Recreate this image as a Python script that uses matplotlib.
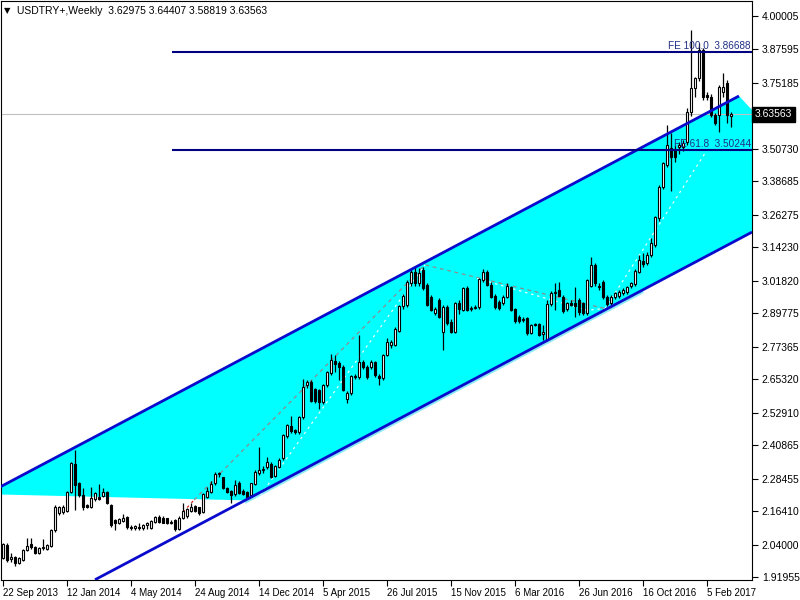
import matplotlib
matplotlib.use('Agg')
import matplotlib.pyplot as plt
import matplotlib.transforms as mtransforms
from matplotlib.patches import Polygon

plt.rcParams['font.family'] = ['Liberation Sans', 'DejaVu Sans']

# ---------------- data ----------------
title_text = "USDTRY+,Weekly  3.62975 3.64407 3.58819 3.63563"

date_labels = ["22 Sep 2013", "12 Jan 2014", "4 May 2014", "24 Aug 2014",
               "14 Dec 2014", "5 Apr 2015", "26 Jul 2015", "15 Nov 2015",
               "6 Mar 2016", "26 Jun 2016", "16 Oct 2016", "5 Feb 2017"]
date_label_bars = [0, 16, 32, 48, 64, 80, 96, 112, 128, 144, 160, 176]

price_tick_labels = ["4.00005", "3.87595", "3.75185", "3.50730", "3.38685",
                     "3.26275", "3.14230", "3.01820", "2.89775", "2.77365",
                     "2.65320", "2.52910", "2.40865", "2.28455", "2.16410",
                     "2.04000", "1.91955"]
current_price = 3.63563

opens = [
    1.989, 2.038, 1.985, 1.995, 1.970, 1.983, 2.020, 2.041, 2.030, 2.007,
    2.026, 2.022, 2.035, 2.094, 2.156, 2.162, 2.165, 2.236, 2.339, 2.267,
    2.224, 2.186, 2.180, 2.208, 2.217, 2.220, 2.236, 2.186, 2.131, 2.121,
    2.128, 2.141, 2.104, 2.100, 2.106, 2.100, 2.112, 2.100, 2.125, 2.143,
    2.140, 2.137, 2.121, 2.131, 2.096, 2.137, 2.146, 2.166, 2.183, 2.178,
    2.162, 2.217, 2.236, 2.267, 2.302, 2.289, 2.248, 2.240, 2.227, 2.269,
    2.240, 2.236, 2.224, 2.264, 2.304, 2.316, 2.326, 2.339, 2.294, 2.329,
    2.360, 2.442, 2.480, 2.465, 2.459, 2.512, 2.632, 2.644, 2.616, 2.613,
    2.570, 2.632, 2.677, 2.722, 2.714, 2.700, 2.578, 2.601, 2.665, 2.663,
    2.718, 2.700, 2.700, 2.718, 2.665, 2.656, 2.743, 2.780, 2.780, 2.833,
    2.925, 2.928, 3.009, 3.052, 3.009, 3.058, 3.003, 2.959, 2.897, 2.947,
    2.830, 2.922, 2.866, 2.830, 2.934, 2.910, 2.990, 2.913, 2.918, 2.922,
    3.021, 3.052, 3.003, 2.960, 2.941, 2.934, 2.959, 2.996, 2.912, 2.885,
    2.878, 2.879, 2.826, 2.857, 2.857, 2.820, 2.800, 2.932, 2.972, 2.984,
    2.959, 2.912, 2.937, 2.934, 2.947, 2.934, 2.897, 3.000, 3.077, 3.000,
    3.015, 2.959, 2.937, 2.959, 2.960, 2.972, 2.975, 2.999, 3.005, 3.052,
    3.093, 3.085, 3.114, 3.150, 3.250, 3.367, 3.447, 3.509, 3.503, 3.515,
    3.515, 3.534, 3.645, 3.732, 3.769, 3.874, 3.707, 3.701, 3.633, 3.633,
    3.719, 3.750, 3.62975]

highs = [
    2.047, 2.045, 2.007, 1.998, 1.992, 2.024, 2.063, 2.063, 2.035, 2.030,
    2.059, 2.042, 2.098, 2.186, 2.184, 2.186, 2.240, 2.347, 2.390, 2.272,
    2.248, 2.192, 2.255, 2.235, 2.263, 2.248, 2.240, 2.190, 2.135, 2.140,
    2.152, 2.146, 2.112, 2.112, 2.119, 2.115, 2.125, 2.130, 2.145, 2.148,
    2.145, 2.140, 2.130, 2.135, 2.145, 2.193, 2.175, 2.193, 2.188, 2.180,
    2.230, 2.255, 2.277, 2.310, 2.310, 2.292, 2.252, 2.244, 2.279, 2.275,
    2.245, 2.240, 2.270, 2.315, 2.400, 2.330, 2.366, 2.345, 2.335, 2.360,
    2.450, 2.487, 2.517, 2.470, 2.515, 2.654, 2.650, 2.650, 2.620, 2.618,
    2.636, 2.685, 2.747, 2.743, 2.720, 2.705, 2.610, 2.670, 2.672, 2.817,
    2.725, 2.705, 2.725, 2.722, 2.672, 2.745, 2.805, 2.800, 2.845, 2.930,
    2.970, 3.020, 3.060, 3.070, 3.065, 3.070, 3.010, 2.965, 2.920, 2.955,
    2.930, 2.930, 2.875, 2.940, 2.945, 2.995, 2.998, 2.925, 2.930, 3.030,
    3.060, 3.058, 3.012, 2.968, 2.948, 2.965, 3.009, 3.000, 2.918, 2.890,
    2.885, 2.883, 2.858, 2.862, 2.862, 2.855, 2.945, 2.980, 3.009, 3.015,
    2.965, 2.940, 2.945, 2.996, 2.955, 2.940, 3.025, 3.107, 3.085, 3.010,
    3.020, 2.965, 2.965, 2.978, 2.985, 2.990, 3.000, 3.015, 3.060, 3.114,
    3.120, 3.126, 3.176, 3.260, 3.372, 3.460, 3.596, 3.565, 3.520, 3.534,
    3.540, 3.660, 3.948, 3.775, 3.900, 3.880, 3.720, 3.710, 3.640, 3.745,
    3.787, 3.763, 3.64407]

lows = [
    1.985, 1.976, 1.976, 1.962, 1.966, 1.980, 2.015, 2.025, 2.003, 2.003,
    2.020, 2.018, 2.030, 2.088, 2.150, 2.155, 2.160, 2.230, 2.168, 2.215,
    2.168, 2.176, 2.176, 2.200, 2.205, 2.215, 2.190, 2.105, 2.094, 2.115,
    2.125, 2.098, 2.094, 2.094, 2.094, 2.095, 2.098, 2.098, 2.120, 2.120,
    2.118, 2.115, 2.115, 2.090, 2.092, 2.135, 2.140, 2.160, 2.160, 2.150,
    2.158, 2.212, 2.230, 2.262, 2.292, 2.245, 2.230, 2.193, 2.220, 2.228,
    2.222, 2.210, 2.220, 2.260, 2.298, 2.305, 2.320, 2.288, 2.290, 2.325,
    2.355, 2.435, 2.455, 2.450, 2.450, 2.505, 2.620, 2.568, 2.565, 2.541,
    2.560, 2.625, 2.670, 2.681, 2.650, 2.610, 2.564, 2.595, 2.655, 2.655,
    2.690, 2.655, 2.690, 2.660, 2.630, 2.650, 2.738, 2.768, 2.775, 2.828,
    2.915, 2.920, 3.000, 3.000, 3.000, 2.985, 2.925, 2.905, 2.890, 2.880,
    2.761, 2.855, 2.825, 2.825, 2.895, 2.905, 2.905, 2.905, 2.912, 2.915,
    3.015, 2.998, 2.955, 2.915, 2.910, 2.928, 2.955, 2.905, 2.860, 2.862,
    2.865, 2.817, 2.820, 2.850, 2.812, 2.799, 2.798, 2.925, 2.910, 2.975,
    2.900, 2.905, 2.925, 2.885, 2.891, 2.890, 2.890, 2.995, 3.000, 2.985,
    2.950, 2.925, 2.930, 2.950, 2.955, 2.965, 2.970, 2.993, 3.000, 3.048,
    3.070, 3.078, 3.105, 3.145, 3.240, 3.360, 3.440, 3.350, 3.460, 3.490,
    3.500, 3.520, 3.630, 3.700, 3.760, 3.690, 3.690, 3.625, 3.595, 3.571,
    3.700, 3.602, 3.58819]

closes = [
    2.042, 1.983, 1.995, 1.970, 1.989, 2.020, 2.034, 2.030, 2.007, 2.026,
    2.030, 2.038, 2.094, 2.180, 2.180, 2.180, 2.236, 2.341, 2.261, 2.224,
    2.180, 2.180, 2.211, 2.230, 2.208, 2.236, 2.193, 2.112, 2.119, 2.135,
    2.140, 2.104, 2.100, 2.109, 2.100, 2.112, 2.119, 2.127, 2.143, 2.125,
    2.121, 2.119, 2.125, 2.096, 2.140, 2.166, 2.170, 2.180, 2.166, 2.156,
    2.227, 2.240, 2.264, 2.302, 2.305, 2.248, 2.234, 2.224, 2.262, 2.232,
    2.227, 2.217, 2.267, 2.310, 2.316, 2.319, 2.347, 2.292, 2.331, 2.353,
    2.446, 2.483, 2.462, 2.459, 2.512, 2.625, 2.644, 2.573, 2.572, 2.570,
    2.632, 2.681, 2.724, 2.708, 2.697, 2.613, 2.603, 2.665, 2.660, 2.718,
    2.697, 2.660, 2.718, 2.669, 2.656, 2.743, 2.790, 2.790, 2.838, 2.925,
    2.962, 3.015, 3.052, 3.009, 3.048, 2.990, 2.928, 2.910, 2.912, 2.885,
    2.922, 2.863, 2.830, 2.934, 2.915, 2.990, 2.910, 2.916, 2.922, 3.024,
    3.052, 3.003, 2.959, 2.920, 2.916, 2.959, 2.999, 2.910, 2.870, 2.870,
    2.872, 2.826, 2.854, 2.855, 2.817, 2.830, 2.932, 2.974, 2.978, 2.962,
    2.907, 2.934, 2.928, 2.925, 2.904, 2.897, 3.021, 3.077, 3.009, 2.996,
    2.959, 2.932, 2.959, 2.971, 2.978, 2.984, 2.995, 3.009, 3.056, 3.095,
    3.080, 3.114, 3.160, 3.253, 3.367, 3.454, 3.522, 3.478, 3.478, 3.522,
    3.528, 3.645, 3.732, 3.769, 3.874, 3.701, 3.698, 3.633, 3.602, 3.738,
    3.738, 3.633, 3.63563]

# Fibonacci expansion levels
fe_names = ["FE 100.0", "FE 61.8"]
fe_levels = [3.86688, 3.50244]
fe_start_bar = 42.25

# equidistant channel (bar index, price) anchors
channel_bars = [-0.75, 184.0]
channel_upper = [2.2533, 3.7034]
channel_width = 0.5303

# fibo expansion anchor points A, B, C (bar, price)
fibo_bars = [47.75, 105.5, 150.5]
fibo_prices = [2.205, 3.077, 2.915]

# ---------------- figure ----------------
fig = plt.figure(figsize=(8, 6), dpi=100)
ax = fig.add_axes([1 / 800, 20 / 600, 751 / 800, 579 / 600])
x_min, x_max = -0.5, 187.25
y_min, y_max = 1.90841, 4.0557
ax.set_xlim(x_min, x_max)
ax.set_ylim(y_min, y_max)

slope = (channel_upper[1] - channel_upper[0]) / (channel_bars[1] - channel_bars[0])


def upper(b):
    return channel_upper[0] + slope * (b - channel_bars[0])


def lower(b):
    return upper(b) - channel_width


# cyan filled channel area
fill_left_low = 2.2255
fill_join_bar = 60.5
poly = [(channel_bars[0], fill_left_low),
        (channel_bars[0], upper(channel_bars[0])),
        (channel_bars[1], upper(channel_bars[1])),
        (x_max, 3.6515),
        (x_max, lower(x_max)),
        (fill_join_bar, lower(fill_join_bar))]
ax.add_patch(Polygon(poly, closed=True, facecolor='#00FFFF', edgecolor='none', zorder=1))

# light band under lower channel line
bb = [fill_join_bar, 160]
ax.plot(bb, [lower(b) - 0.007 for b in bb], color='#8CEBF5', lw=2.2,
        zorder=2, solid_capstyle='butt')

# current price line
ax.axhline(current_price, color='#C0C0C0', lw=0.8, zorder=2)

# fibo expansion dashed / dotted lines
ax.plot(fibo_bars, fibo_prices, color='#8C8C8C', lw=0.9, ls=(0, (3, 3)), zorder=3)
ax.plot([63.5, fibo_bars[1]], [2.205, fibo_prices[1]], color='#E8FFFF', lw=0.9,
        ls=(0, (2, 3)), zorder=3)
ax.plot([118.5, 146.0, fibo_bars[2]], [3.027, 2.909, fibo_prices[2]], color='#E8FFFF',
        lw=0.9, ls=(0, (2, 3)), zorder=3)
ax.plot([fibo_bars[2], 176.0], [fibo_prices[2], fe_levels[1]], color='#E8FFFF',
        lw=0.9, ls=(0, (2, 3)), zorder=3)
ax.plot([45.0, fibo_bars[0]], [2.160, fibo_prices[0]], color='#D02020', lw=0.9,
        ls=(0, (2, 3)), zorder=3)

# candles
n = len(closes)
xs = list(range(n))
ax.vlines(xs, lows, highs, colors='black', lw=0.9, zorder=4)
bottoms = [min(o, c) for o, c in zip(opens, closes)]
heights = [max(abs(c - o), 0.0025) for o, c in zip(opens, closes)]
faces = ['white' if c >= o else 'black' for o, c in zip(opens, closes)]
ax.bar(xs, heights, bottom=bottoms, width=0.62, color=faces, edgecolor='black',
       linewidth=0.8, zorder=5)

# channel lines
cb = [channel_bars[0], channel_bars[1]]
ax.plot(cb, [upper(b) for b in cb], color='#0A0ACD', lw=2.0, zorder=6,
        solid_capstyle='butt')
lb = [23.0, x_max]
ax.plot(lb, [lower(b) for b in lb], color='#0A0ACD', lw=2.0, zorder=6,
        solid_capstyle='butt')

# FE levels
for name, lvl in zip(fe_names, fe_levels):
    ax.hlines(lvl, fe_start_bar, x_max, color='#000080', lw=1.5, zorder=6)
    ax.text(187.0, lvl + 0.004, f"{name}  {lvl:.5f}", ha='right', va='bottom',
            fontsize=7.2, color='#1F2F86', zorder=7)

# axes styling
for sp in ax.spines.values():
    sp.set_color('black')
    sp.set_linewidth(0.8)
ax.yaxis.tick_right()
ax.set_yticks([float(v) for v in price_tick_labels])
ax.set_yticklabels(price_tick_labels)
ax.tick_params(axis='y', length=4, width=0.8, pad=3, labelsize=7.5, colors='black')
ax.set_xticks(date_label_bars)
ax.set_xticklabels(date_labels, ha='left')
ax.tick_params(axis='x', length=4, width=0.8, pad=1.5, labelsize=7, colors='black')

# current price box
trans = mtransforms.blended_transform_factory(ax.transAxes, ax.transData)
ax.text(1.004, current_price, f"{current_price:.5f}", transform=trans, ha='left',
        va='center', fontsize=7.5, color='white', zorder=10, clip_on=False,
        bbox=dict(facecolor='black', edgecolor='black', boxstyle='square,pad=0.25'))

# header
fig.text(4 / 800, 1 - 11 / 600, "\u25BC", fontsize=6, va='center', ha='left',
         family=['DejaVu Sans'])
fig.text(17 / 800, 1 - 11 / 600, title_text, fontsize=7.5, va='center', ha='left')

fig.savefig('out.png', dpi=100, facecolor='white')
